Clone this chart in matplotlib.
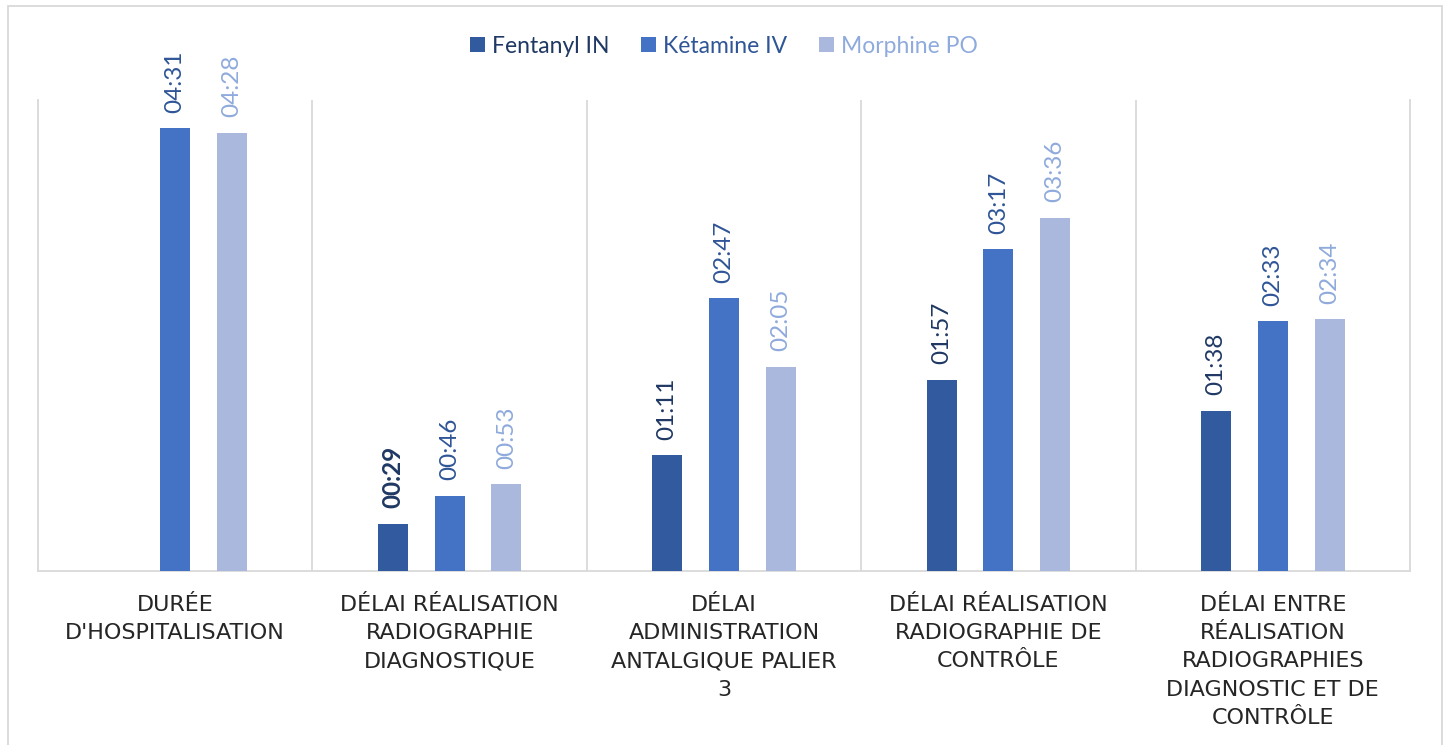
import numpy as np
import matplotlib.pyplot as plt
from matplotlib.patches import Rectangle

plt.rcParams['font.family'] = ['Lato', 'DejaVu Sans']

# Data (durations in minutes)
categories = [
    "DURÉE\nD'HOSPITALISATION",
    "DÉLAI RÉALISATION\nRADIOGRAPHIE\nDIAGNOSTIQUE",
    "DÉLAI\nADMINISTRATION\nANTALGIQUE PALIER\n3",
    "DÉLAI RÉALISATION\nRADIOGRAPHIE DE\nCONTRÔLE",
    "DÉLAI ENTRE\nRÉALISATION\nRADIOGRAPHIES\nDIAGNOSTIC ET DE\nCONTRÔLE",
]
series_names = ["Fentanyl IN", "Kétamine IV", "Morphine PO"]
fentanyl = [np.nan, 29, 71, 117, 98]
ketamine = [271, 46, 167, 197, 153]
morphine = [268, 53, 125, 216, 154]

bar_colors = ['#325A9E', '#4472C4', '#A9B8DC']
label_colors = ['#1F3864', '#2F5597', '#8FAADC']


def fmt(minutes):
    return f"{int(minutes) // 60:02d}:{int(minutes) % 60:02d}"


fig = plt.figure(figsize=(14.49, 7.45), dpi=100)
ax = fig.add_axes([38 / 1449, 1 - 571 / 745, (1410 - 38) / 1449, (571 - 100) / 745])

x = np.arange(len(categories))
offsets = [-0.207, 0, 0.207]
width = 0.109
all_series = [fentanyl, ketamine, morphine]

for i, vals in enumerate(all_series):
    vals = np.array(vals, dtype=float)
    mask = ~np.isnan(vals)
    ax.bar(x[mask] + offsets[i], vals[mask], width=width, color=bar_colors[i],
           label=series_names[i], zorder=3)
    for xi, v in zip(x[mask], vals[mask]):
        weight = 'bold' if (i == 0 and v == 29) else 'normal'
        ax.annotate(fmt(v), (xi + offsets[i], v), xytext=(0, 11),
                    textcoords='offset points', rotation=90, ha='center',
                    va='bottom', fontsize=17.5, color=label_colors[i],
                    fontweight=weight)

ax.set_xlim(-0.5, len(categories) - 0.5)
ax.set_ylim(0, 288)
ax.set_yticks([])
ax.set_xticks(x)
ax.set_xticklabels(categories, fontsize=16, color='#262626', linespacing=1.52,
                   family=['DejaVu Sans'])
ax.tick_params(axis='x', length=0, pad=17)

for b in np.arange(0.5, len(categories) - 0.5, 1):
    ax.axvline(b, color='#D9D9D9', linewidth=1.3, zorder=1)
for side in ['left', 'right', 'bottom']:
    ax.spines[side].set_color('#D9D9D9')
    ax.spines[side].set_linewidth(1.3)
ax.spines['top'].set_visible(False)

leg = ax.legend(loc='upper center', bbox_to_anchor=(0.5, 1.18), ncol=3,
                frameon=False, fontsize=16.5, handlelength=0.65, handleheight=0.65,
                handletextpad=0.3, columnspacing=1.4)
for txt, c in zip(leg.get_texts(), ['#1F3864', '#2F5597', '#8FAADC']):
    txt.set_color(c)

# outer border
fig.patches.append(Rectangle((8 / 1449, -0.01), (1442 - 8) / 1449, 1 - 6 / 745 + 0.01,
                             transform=fig.transFigure, fill=False,
                             edgecolor='#D9D9D9', linewidth=1.3))

fig.savefig('out.png', dpi=100)
